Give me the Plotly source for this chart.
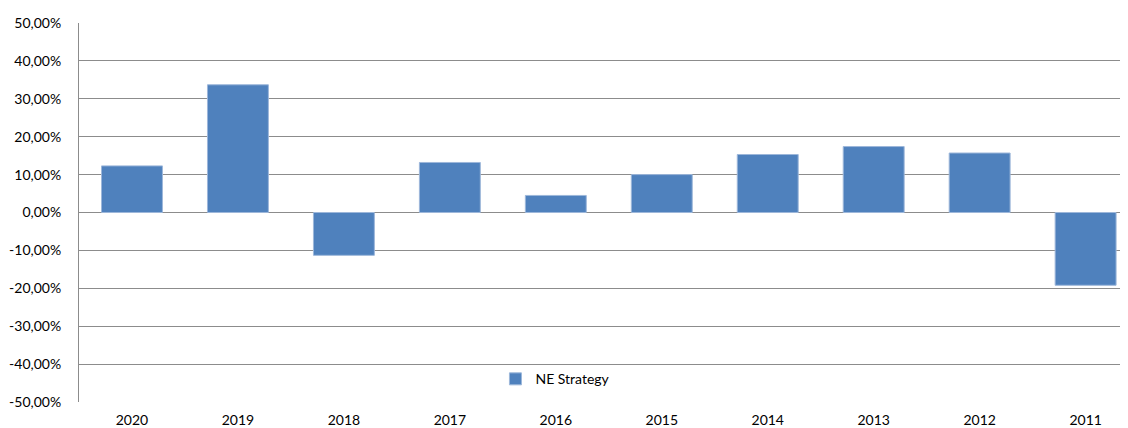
import plotly.graph_objects as go

years = ["2020", "2019", "2018", "2017", "2016", "2015", "2014", "2013", "2012", "2011"]
returns = [0.123, 0.337, -0.113, 0.132, 0.045, 0.100, 0.153, 0.174, 0.157, -0.192]
series_name = "NE Strategy"
y_ticks = [0.5, 0.4, 0.3, 0.2, 0.1, 0.0, -0.1, -0.2, -0.3, -0.4, -0.5]
y_tick_labels = ["50,00%", "40,00%", "30,00%", "20,00%", "10,00%", "0,00%",
                 "-10,00%", "-20,00%", "-30,00%", "-40,00%", "-50,00%"]

fig = go.Figure()
fig.add_trace(go.Bar(
    x=years, y=returns, name=series_name,
    marker=dict(color="#4F81BD", line=dict(color="#9DB7DA", width=1)),
    width=0.575,
))

grid = "#8C8C8C"
fig.update_layout(
    width=1120, height=420,
    margin=dict(l=71, r=0, t=15, b=26, autoexpand=False),
    paper_bgcolor="white", plot_bgcolor="white",
    font=dict(family="Lato, Carlito, sans-serif", size=14, color="#000000"),
    showlegend=True,
    legend=dict(x=0.397, y=0.06, xanchor="left", yanchor="middle",
                bgcolor="rgba(0,0,0,0)", font=dict(size=14),
                itemwidth=30),
    xaxis=dict(type="category", range=[-0.5, 9.4], showgrid=False,
               showline=False, ticks="", ticklabelstandoff=8, automargin=False),
    yaxis=dict(range=[-0.5, 0.5], tickvals=y_ticks, ticktext=y_tick_labels,
               showgrid=True, gridcolor=grid, gridwidth=1,
               zeroline=True, zerolinecolor=grid, zerolinewidth=1,
               showline=True, linecolor=grid, linewidth=1,
               ticks="", ticklabelstandoff=14, automargin=False),
)
fig.write_html("out.html")
